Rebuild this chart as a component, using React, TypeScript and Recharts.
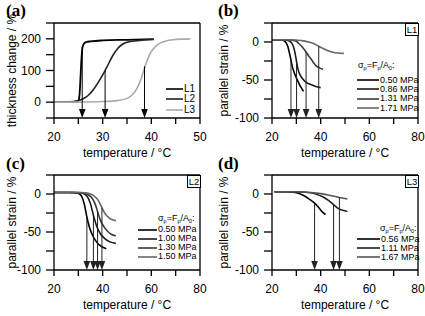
import React from 'react';
import { LineChart, Line, XAxis, YAxis, ReferenceLine } from 'recharts';

const FONT = '"Liberation Sans", Arial, sans-serif';

// ---------- Panel (a): thickness change ----------
const aL1T = [20, 22, 24, 24.8, 25.1, 25.3, 25.5, 25.7, 25.9, 26.2, 26.7, 27.5, 30, 35, 40.5];
const aL1V = [0, 0, 0.5, 2, 8, 35, 95, 150, 176, 186, 190, 192, 195, 197, 199];
const aL2T = [20, 22, 24, 25, 26, 27, 28, 29, 30, 30.5, 31, 32, 33, 34, 35, 37, 40.5];
const aL2V = [0, 0.5, 2, 5, 11, 21, 38, 60, 86, 100, 115, 145, 168, 182, 189, 194, 198];
const aL3T = [20, 26, 30, 33, 35, 36, 37, 38, 38.6, 39.3, 40, 41, 42, 43, 44.5, 46, 48];
const aL3V = [0, 0.5, 2, 5, 12, 22, 42, 78, 108, 138, 160, 178, 188, 193, 197, 199, 200];
const aNames = ['L1', 'L2', 'L3'];
const aArrowT = [25.8, 30.5, 38.6];
const aArrowTop = [175, 100, 113];
const aXTicks = [20, 25, 30, 35, 40, 45, 50];
const aXLabels = [20, 30, 40, 50];
const aYTicks = [-50, 0, 50, 100, 150, 200, 250];
const aYLabels = [0, 100, 200];

// ---------- Panel (b): L1 parallel strain ----------
const bAT = [20, 22, 24, 25, 25.8, 26.5, 27.2, 27.8, 28.4, 29, 30, 31, 32, 33];
const bAV = [3, 3, 2.6, 1.5, -1, -6, -15, -24, -33, -39, -47, -54, -60, -65];
const bBT = [20, 24, 26, 27, 28, 28.8, 29.5, 30.1, 30.7, 31.5, 32.5, 34, 36, 38, 40];
const bBV = [3, 3, 2.5, 1.5, -1, -6, -15, -26, -36, -43, -48, -53, -56, -58.5, -60];
const bCT = [20, 26, 28, 30, 31, 32, 33, 34, 35, 36, 37, 38, 39.5, 41];
const bCV = [3, 3, 2.5, 1, -2, -5, -9, -13, -18, -22, -27, -31, -34, -36];
const bDT = [20, 26, 30, 33, 35, 37, 39.2, 41, 43, 45, 47, 49.5];
const bDV = [3, 3, 2.5, 1.5, 0, -2, -5.5, -8.5, -11.5, -13.5, -14.5, -15];
const bNames = ['0.50 MPa', '0.86 MPa', '1.31 MPa', '1.71 MPa'];
const bArrowT = [27.8, 30.1, 34, 39.2];
const bArrowTop = [-24, -26, -13, -5.5];

// ---------- Panel (c): L2 parallel strain ----------
const cAT = [20, 26, 29, 30.5, 31.5, 32.5, 33.5, 34.5, 35.5, 37, 39, 41.5];
const cAV = [2, 2, 1.5, 0, -4, -14, -30, -43, -52, -61, -68, -72];
const cBT = [20, 28, 31, 32.5, 34, 35, 36.2, 37.5, 39, 41, 43, 45.4];
const cBV = [2, 2, 1.5, 0, -5, -13, -28, -42, -52, -59, -63, -65];
const cCT = [20, 29, 32, 34, 36, 37, 37.9, 39, 40.5, 42, 43.5, 45.4];
const cCV = [2, 2, 1.5, -1, -7, -14, -23, -34, -43, -49, -53, -55];
const cDT = [20, 30, 33, 35, 37, 38.5, 39.7, 41, 42.5, 44, 45.4];
const cDV = [2, 2, 1.5, 0, -4, -10, -18, -26, -31, -34, -35];
const cNames = ['0.50 MPa', '1.00 MPa', '1.30 MPa', '1.50 MPa'];
const cArrowT = [33.5, 36.2, 37.9, 39.7];
const cArrowTop = [-30, -28, -23, -18];

// ---------- Panel (d): L3 parallel strain ----------
const dAT = [21, 26, 29, 31, 33, 35, 37.5, 39, 40.5, 42];
const dAV = [3, 3, 2.5, 1, -2, -6, -12, -17, -23, -27];
const dBT = [21, 30, 35, 38, 41, 43.5, 45.3, 47, 49, 51];
const dBV = [3, 3, 2, 0, -4, -9, -14, -18.5, -21.5, -23];
const dCT = [21, 30, 36, 40, 44, 47.7, 50, 51];
const dCV = [3, 3, 2, 0.5, -2, -4.5, -6, -6.5];
const dNames = ['0.56 MPa', '1.11 MPa', '1.67 MPa'];
const dArrowT = [37.5, 45.3, 47.7];
const dArrowTop = [-12, -14, -4.5];

const sXTicks = [20, 30, 40, 50, 60, 70, 80];
const sXLabels = [20, 40, 60, 80];
const sYTicks = [-100, -75, -50, -25, 0, 25];
const sYLabels = [-100, -50, 0];

type Series = { name: string; t: number[]; v: number[]; color: string; width: number };

const zip = (t: number[], v: number[]) => t.map((x, i) => ({ x, y: v[i] }));

const arrowShape = (color: string) => (props: any) => {
  const { x1, y1, x2, y2 } = props;
  const top = Math.min(y1, y2);
  const bot = Math.max(y1, y2);
  const head = 9;
  const hw = 3.3;
  return (
    <g>
      <line x1={x1} y1={top} x2={x1} y2={bot - head + 1} stroke={color} strokeWidth={1} />
      <polygon points={`${x1 - hw},${bot - head} ${x1 + hw},${bot - head} ${x1},${bot}`} fill={color} />
    </g>
  );
};

type PanelProps = {
  left: number; top: number; width: number; yAxisWidth: number; rightMargin: number;
  xDomain: [number, number]; xTicks: number[]; xLabels: number[];
  yDomain: [number, number]; yTicks: number[]; yLabels: number[];
  yTitle: string; series: Series[]; arrowT: number[]; arrowTop: number[]; arrowColor: string;
};

const CH = 164;

function Panel(p: PanelProps) {
  const tickStyle = { fill: '#000', fontSize: 12, fontFamily: FONT };
  const xTitle = (props: any) => {
    const vb = props.viewBox;
    return (
      <text x={vb.x + vb.width / 2} y={vb.y + 38.5} textAnchor="middle" fontSize={12} fontFamily={FONT} fill="#000">
        temperature / °C
      </text>
    );
  };
  const yTitle = (props: any) => {
    const vb = props.viewBox;
    const cx = vb.x + 12;
    const cy = vb.y + vb.height / 2;
    return (
      <text x={cx} y={cy} transform={`rotate(-90, ${cx}, ${cy})`} textAnchor="middle" dominantBaseline="central"
        fontSize={12} fontFamily={FONT} fill="#000">
        {p.yTitle}
      </text>
    );
  };
  return (
    <div style={{ position: 'absolute', left: p.left, top: p.top, width: p.width, height: CH }}>
      <LineChart width={p.width} height={CH} margin={{ top: 23, right: p.rightMargin, bottom: CH - 158, left: 0 }}>
        <XAxis type="number" dataKey="x" domain={p.xDomain} ticks={p.xTicks} interval={0} allowDataOverflow
          tickFormatter={(v: number) => (p.xLabels.includes(v) ? String(v) : '')}
          tickSize={6} tickMargin={8} height={40} stroke="#000" strokeWidth={1.3}
          tick={tickStyle} label={xTitle} />
        <YAxis type="number" domain={p.yDomain} ticks={p.yTicks} interval={0} allowDataOverflow
          tickFormatter={(v: number) => (p.yLabels.includes(v) ? String(v) : '')}
          tickSize={8} tickMargin={5} width={p.yAxisWidth} stroke="#000" strokeWidth={1.3}
          tick={tickStyle} label={yTitle} />
        <ReferenceLine y={p.yDomain[1]} stroke="#000" strokeWidth={1.3} ifOverflow="visible" />
        <ReferenceLine x={p.xDomain[1]} stroke="#000" strokeWidth={1.3} ifOverflow="visible" />
        {p.series.map((s) => (
          <Line key={s.name} data={zip(s.t, s.v)} dataKey="y" type="monotone" stroke={s.color}
            strokeWidth={s.width} dot={false} isAnimationActive={false} />
        ))}
        {p.arrowT.map((t, i) => (
          <ReferenceLine key={'ar' + i} segment={[{ x: t, y: p.arrowTop[i] }, { x: t, y: p.yDomain[0] }]}
            ifOverflow="visible" shape={arrowShape(p.arrowColor)} />
        ))}
      </LineChart>
    </div>
  );
}

function Legend({ left, top, series, lineW, header, fontSize, rowH }:
  { left: number; top: number[]; series: Series[]; lineW: number; header?: { top: number; left: number }; fontSize: number; rowH: number }) {
  return (
    <>
      {header && (
        <div style={{ position: 'absolute', left: header.left, top: header.top - 5, height: 9, fontFamily: FONT, fontSize: fontSize, lineHeight: '9px', whiteSpace: 'nowrap' }}>
          σ<sub style={{ fontSize: 5.5, lineHeight: '5px', verticalAlign: -2 }}>p</sub>=F<sub style={{ fontSize: 5.5, lineHeight: '5px', verticalAlign: -2 }}>p</sub>/A<sub style={{ fontSize: 5.5, lineHeight: '5px', verticalAlign: -2 }}>0</sub>:
        </div>
      )}
      {series.map((s, i) => (
        <div key={s.name} style={{ position: 'absolute', left, top: top[i] - rowH / 2, height: rowH, lineHeight: `${rowH}px`, display: 'flex', alignItems: 'center', fontFamily: FONT, fontSize, whiteSpace: 'nowrap' }}>
          <svg width={lineW} height={4} style={{ display: 'block' }}>
            <line x1={0} y1={2} x2={lineW} y2={2} stroke={s.color} strokeWidth={1.6} />
          </svg>
          <span style={{ marginLeft: 1, lineHeight: `${rowH}px` }}>{s.name}</span>
        </div>
      ))}
    </>
  );
}

const BoxLabel = ({ left, top, text }: { left: number; top: number; text: string }) => (
  <div style={{ position: 'absolute', left, top, width: 12, height: 11, border: '1px solid #000', fontFamily: FONT, fontSize: 9.5, lineHeight: '11px', textAlign: 'center', background: '#fff' }}>
    {text}
  </div>
);

const PanelLetter = ({ left, top, text }: { left: number; top: number; text: string }) => (
  <div style={{ position: 'absolute', left, top, fontFamily: '"Liberation Serif", "Times New Roman", serif', fontWeight: 'bold', fontSize: 17, lineHeight: '20px' }}>
    {text}
  </div>
);

export default function App() {
  const aSeries: Series[] = [
    { name: aNames[0], t: aL1T, v: aL1V, color: '#000', width: 1.8 },
    { name: aNames[1], t: aL2T, v: aL2V, color: '#222', width: 1.6 },
    { name: aNames[2], t: aL3T, v: aL3V, color: '#aaa', width: 1.6 },
  ];
  const bSeries: Series[] = [
    { name: bNames[0], t: bAT, v: bAV, color: '#000', width: 1.6 },
    { name: bNames[1], t: bBT, v: bBV, color: '#1a1a1a', width: 1.6 },
    { name: bNames[2], t: bCT, v: bCV, color: '#3a3a3a', width: 1.6 },
    { name: bNames[3], t: bDT, v: bDV, color: '#666', width: 1.6 },
  ];
  const cSeries: Series[] = [
    { name: cNames[0], t: cAT, v: cAV, color: '#000', width: 1.6 },
    { name: cNames[1], t: cBT, v: cBV, color: '#1a1a1a', width: 1.6 },
    { name: cNames[2], t: cCT, v: cCV, color: '#3a3a3a', width: 1.6 },
    { name: cNames[3], t: cDT, v: cDV, color: '#666', width: 1.6 },
  ];
  const dSeries: Series[] = [
    { name: dNames[0], t: dAT, v: dAV, color: '#000', width: 1.6 },
    { name: dNames[1], t: dBT, v: dBV, color: '#222', width: 1.6 },
    { name: dNames[2], t: dCT, v: dCV, color: '#555', width: 1.6 },
  ];
  return (
    <div style={{ position: 'absolute', left: 0, top: 0, width: 425, height: 316, background: '#fff', overflow: 'hidden' }}>
      <Panel left={0} top={0} width={212} yAxisWidth={54} rightMargin={12}
        xDomain={[20, 50]} xTicks={aXTicks} xLabels={aXLabels}
        yDomain={[-50, 250]} yTicks={aYTicks} yLabels={aYLabels}
        yTitle="thickness change / %" series={aSeries} arrowT={aArrowT} arrowTop={aArrowTop} arrowColor="#000" />
      <Panel left={212} top={0} width={213} yAxisWidth={60} rightMargin={7}
        xDomain={[20, 80]} xTicks={sXTicks} xLabels={sXLabels}
        yDomain={[-100, 25]} yTicks={sYTicks} yLabels={sYLabels}
        yTitle="parallel strain / %" series={bSeries} arrowT={bArrowT} arrowTop={bArrowTop} arrowColor="#222" />
      <Panel left={0} top={152} width={212} yAxisWidth={54} rightMargin={12}
        xDomain={[20, 80]} xTicks={sXTicks} xLabels={sXLabels}
        yDomain={[-100, 25]} yTicks={sYTicks} yLabels={sYLabels}
        yTitle="parallel strain / %" series={cSeries} arrowT={cArrowT} arrowTop={cArrowTop} arrowColor="#222" />
      <Panel left={212} top={152} width={213} yAxisWidth={60} rightMargin={7}
        xDomain={[20, 80]} xTicks={sXTicks} xLabels={sXLabels}
        yDomain={[-100, 25]} yTicks={sYTicks} yLabels={sYLabels}
        yTitle="parallel strain / %" series={dSeries} arrowT={dArrowT} arrowTop={dArrowTop} arrowColor="#222" />

      <PanelLetter left={6} top={1} text="(a)" />
      <PanelLetter left={218} top={1} text="(b)" />
      <PanelLetter left={6} top={154} text="(c)" />
      <PanelLetter left={218} top={154} text="(d)" />

      <Legend left={166} top={[89, 99.3, 109.6]} series={aSeries} lineW={17} fontSize={10} rowH={10} />
      <Legend left={357} top={[80, 89.3, 98.6, 108]} series={bSeries} lineW={22} fontSize={9} rowH={9}
        header={{ left: 358, top: 66 }} />
      <Legend left={138} top={[229.5, 238.5, 247.5, 256.5]} series={cSeries} lineW={19} fontSize={9} rowH={9}
        header={{ left: 158, top: 219 }} />
      <Legend left={357} top={[239, 248, 257]} series={dSeries} lineW={23} fontSize={9} rowH={9}
        header={{ left: 380, top: 228.5 }} />

      <BoxLabel left={405} top={23} text="L1" />
      <BoxLabel left={187} top={175} text="L2" />
      <BoxLabel left={405} top={175} text="L3" />
    </div>
  );
}
